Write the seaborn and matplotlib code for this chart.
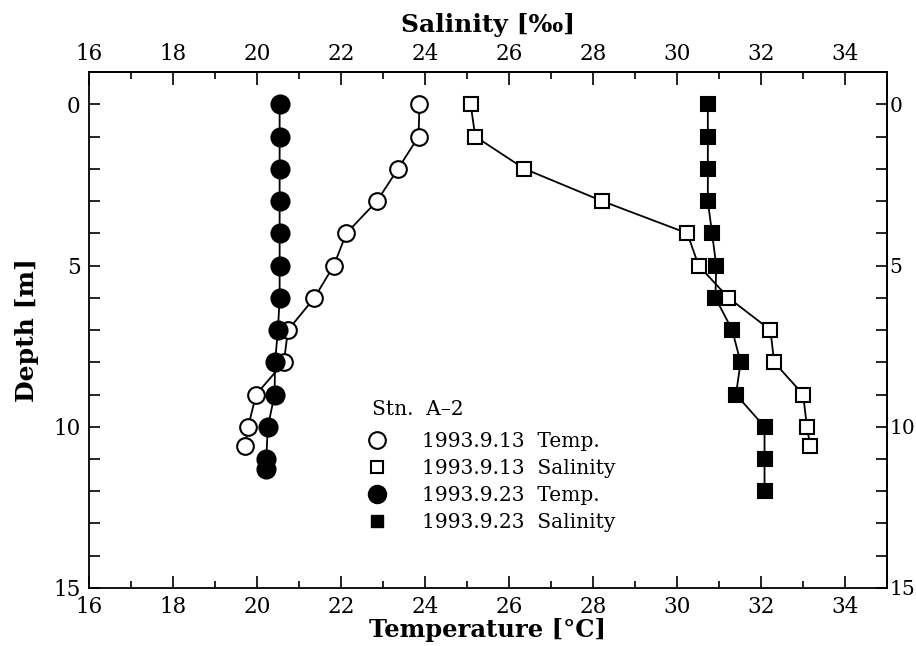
# Perfil vertical de temperatura y salinidad, Stn. A-2
import pandas as pd
import matplotlib.pyplot as plt
import seaborn as sns
from matplotlib.lines import Line2D
from matplotlib.ticker import FixedLocator

# Datos
prof_temp_0913 = [0, 1, 2, 3, 4, 5, 6, 7, 8, 9, 10, 10.6]
temp_0913 = [23.87, 23.85, 23.36, 22.86, 22.13, 21.83, 21.37, 20.74, 20.64, 19.98, 19.79, 19.71]

prof_sal_0913 = [0, 1, 2, 3, 4, 5, 6, 7, 8, 9, 10, 10.6]
sal_0913 = [25.09, 25.2, 26.37, 28.22, 30.25, 30.52, 31.23, 32.23, 32.32, 33.01, 33.1, 33.18]

prof_temp_0923 = [0, 1, 2, 3, 4, 5, 6, 7, 8, 9, 10, 11, 11.3]
temp_0923 = [20.54, 20.54, 20.54, 20.54, 20.54, 20.54, 20.54, 20.5, 20.43, 20.42, 20.26, 20.22, 20.22]

prof_sal_0923 = [0, 1, 2, 3, 4, 5, 6, 7, 8, 9, 10, 11, 12]
sal_0923 = [30.74, 30.74, 30.74, 30.74, 30.84, 30.94, 30.92, 31.32, 31.52, 31.41, 32.09, 32.09, 32.09]

etiquetas = ['1993.9.13  Temp.', '1993.9.13  Salinity', '1993.9.23  Temp.', '1993.9.23  Salinity']
ticks_x = [16, 18, 20, 22, 24, 26, 28, 30, 32, 34]
ticks_y = [0, 5, 10, 15]

# Estilo
sns.set_style('ticks')
plt.rcParams['font.family'] = ['DejaVu Serif', 'DejaVu Sans']
plt.rcParams['axes.linewidth'] = 1.3
for clave in ['text.color', 'axes.labelcolor', 'axes.edgecolor', 'xtick.color', 'ytick.color']:
    plt.rcParams[clave] = 'black'

fig = plt.figure(figsize=(9.16, 6.46), dpi=100)
ax = fig.add_axes([0.0972, 0.0898, 0.8708, 0.7987])

series = [
    (temp_0913, prof_temp_0913, 'o', 'white', 12),
    (sal_0913, prof_sal_0913, 's', 'white', 10),
    (temp_0923, prof_temp_0923, 'o', 'black', 13),
    (sal_0923, prof_sal_0923, 's', 'black', 9.5),
]
for x, y, m, fc, ms in series:
    df = pd.DataFrame({'x': x, 'prof': y})
    sns.lineplot(data=df, x='x', y='prof', sort=False, estimator=None, color='black',
                 lw=1.3, marker=m, markersize=ms, markerfacecolor=fc,
                 markeredgecolor='black', markeredgewidth=1.5, ax=ax)

ax.set_xlim(16, 35)
ax.set_ylim(15, -1)
ax.xaxis.set_major_locator(FixedLocator(ticks_x))
ax.xaxis.set_minor_locator(FixedLocator(list(range(17, 36, 2))))
ax.yaxis.set_major_locator(FixedLocator(ticks_y))
ax.yaxis.set_minor_locator(FixedLocator(list(range(0, 16))))
ax.tick_params(which='both', direction='in', top=False, right=False, labelsize=15.5, width=1.2)
ax.tick_params(axis='x', which='major', length=9, pad=6)
ax.tick_params(axis='x', which='minor', length=5)
ax.tick_params(axis='y', which='both', length=8, pad=6)

# Ejes secundarios (arriba: salinidad, derecha: profundidad)
sec_x = ax.secondary_xaxis('top')
sec_x.xaxis.set_major_locator(FixedLocator(ticks_x))
sec_x.xaxis.set_minor_locator(FixedLocator(list(range(17, 36, 2))))
sec_x.tick_params(which='both', direction='in', labelsize=15.5, width=1.2, pad=5)
sec_x.tick_params(which='major', length=9)
sec_x.tick_params(which='minor', length=5)
sec_x.set_xlabel('Salinity [‰]', fontsize=18, fontweight='bold', labelpad=8)

sec_y = ax.secondary_yaxis('right')
sec_y.yaxis.set_major_locator(FixedLocator(ticks_y))
sec_y.yaxis.set_minor_locator(FixedLocator(list(range(0, 16))))
sec_y.tick_params(which='both', direction='in', labelsize=14.5, width=1.2, length=8, pad=2)

ax.set_xlabel('Temperature [°C]', fontsize=17.5, fontweight='bold', labelpad=0)
ax.set_ylabel('Depth [m]', fontsize=18, fontweight='bold', labelpad=10)

# Leyenda
handles = [
    Line2D([], [], ls='none', marker='o', ms=12, mfc='white', mec='black', mew=1.5),
    Line2D([], [], ls='none', marker='s', ms=9, mfc='white', mec='black', mew=1.5),
    Line2D([], [], ls='none', marker='o', ms=13, mfc='black', mec='black'),
    Line2D([], [], ls='none', marker='s', ms=9, mfc='black', mec='black'),
]
ax.legend(handles, etiquetas, loc='upper left', bbox_to_anchor=(0.348, 0.302),
          frameon=False, fontsize=14.5, handlelength=1, handletextpad=1.75,
          labelspacing=0.4, borderpad=0, borderaxespad=0, labelcolor='black')
ax.text(0.355, 0.345, 'Stn.  A–2', transform=ax.transAxes, fontsize=14.5, va='center', ha='left')

fig.savefig('out.png', dpi=100)
